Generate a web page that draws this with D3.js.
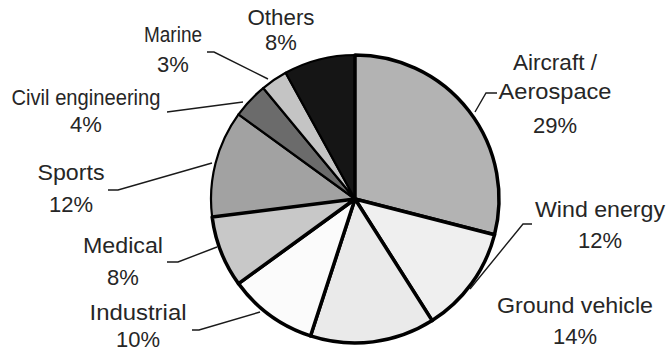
<!DOCTYPE html>
<html>
<head>
<meta charset="utf-8">
<script src="https://cdn.jsdelivr.net/npm/d3@7"></script>
<style>
  html, body { margin: 0; padding: 0; background: #fff; }
  svg { display: block; }
  text { font-family: "Liberation Sans", Arial, sans-serif; fill: #262626; }
</style>
</head>
<body>
<svg id="chart" width="668" height="353"></svg>
<script>
// Market share by application (percent), clockwise from 12 o'clock
const categories = ["Aircraft / Aerospace", "Wind energy", "Ground vehicle", "Industrial",
                    "Medical", "Sports", "Civil engineering", "Marine", "Others"];
const shares = [29, 12, 14, 10, 8, 12, 4, 3, 8];
const labelLines = [["Aircraft /", "Aerospace", "29%"], ["Wind energy", "12%"], ["Ground vehicle", "14%"],
                    ["Industrial", "10%"], ["Medical", "8%"], ["Sports", "12%"],
                    ["Civil engineering", "4%"], ["Marine", "3%"], ["Others", "8%"]];

// Greyscale fills and outline weights per slice
const fills = ["#b3b3b3", "#efefef", "#eaeaea", "#fbfbfb", "#c8c8c8", "#a2a2a2", "#6b6b6b", "#c4c4c4", "#151515"];
const strokeW = [3.5, 3.5, 3.5, 3.5, 3.5, 2.2, 2.2, 2.2, 2.2];

// Label placement: centre x, baselines of each line, fitted width of the name line
const labelLayout = [
  { x: 555, ys: [70, 99, 133], w: [84, 113] },
  { x: 600, ys: [217, 248], w: [130] },
  { x: 575, ys: [313, 344], w: [156] },
  { x: 138, ys: [320, 347], w: [97] },
  { x: 123, ys: [253, 285], w: [80] },
  { x: 71,  ys: [180, 212], w: [67] },
  { x: 86,  ys: [105, 132], w: [149] },
  { x: 173, ys: [42, 72], w: [58] },
  { x: 281, ys: [25, 50], w: [67] }
];
// Leader lines (polyline points) from label to slice edge
const leaders = [
  [[497, 93], [486, 93], [475, 112]],
  [[532, 224], [523, 224], [470, 289]],
  null,
  [[192, 330], [199, 330], [260, 312]],
  [[167, 262], [178, 262], [217, 247]],
  [[108, 190], [118, 190], [212, 163]],
  [[167, 112], [243, 102]],
  [[207, 52], [214, 52], [268, 79]],
  null
];

const svg = d3.select("#chart");
const cx = 355, cy = 199, r = 144;

const pie = d3.pie().sort(null).value(d => d)(shares);
const arc = d3.arc().innerRadius(0).outerRadius(r);

const g = svg.append("g").attr("transform", `translate(${cx},${cy})`);
// draw thin-outlined slices first so heavy outlines sit on top
const order = d3.range(pie.length).sort((a, b) => strokeW[a] - strokeW[b]);
g.selectAll("path")
  .data(order.map(i => ({ a: pie[i], i })))
  .join("path")
  .attr("d", d => arc(d.a))
  .attr("fill", d => fills[d.i])
  .attr("stroke", "#000")
  .attr("stroke-width", d => strokeW[d.i])
  .attr("stroke-linejoin", "round");

// leader lines
const line = d3.line();
svg.append("g").selectAll("path")
  .data(leaders.filter(l => l))
  .join("path")
  .attr("d", d => line(d))
  .attr("fill", "none")
  .attr("stroke", "#1a1a1a")
  .attr("stroke-width", 1.4);

// labels
categories.forEach((c, i) => {
  const L = labelLayout[i];
  const t = svg.append("g");
  labelLines[i].forEach((txt, j) => {
    const el = t.append("text")
      .attr("x", L.x)
      .attr("y", L.ys[j])
      .attr("text-anchor", "middle")
      .attr("font-size", 22)
      .text(txt);
    if (j < L.w.length) {
      el.attr("textLength", L.w[j]).attr("lengthAdjust", "spacingAndGlyphs");
    }
  });
});
</script>
</body>
</html>
